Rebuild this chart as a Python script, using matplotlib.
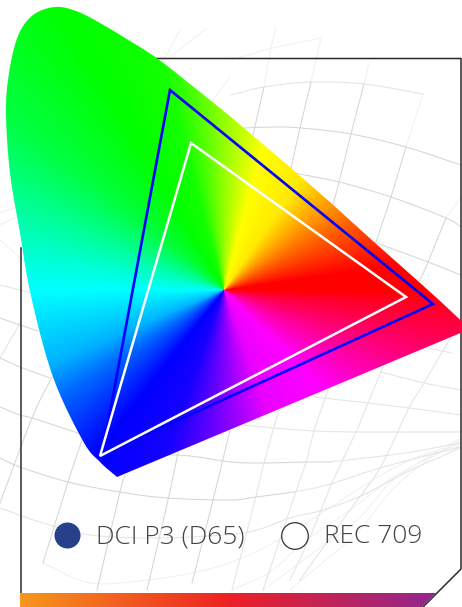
import numpy as np
import matplotlib
matplotlib.use('Agg')
import matplotlib.pyplot as plt
from matplotlib.colors import hsv_to_rgb, LinearSegmentedColormap
from matplotlib.patches import Polygon, Circle

# everything is in picture pixels, y pointing down
W, H = 462, 607

# spectral locus: curved part from the blue corner round the top, then the straight edges
locus_curve = [(117, 477), (100, 462), (83, 441), (53, 377), (31, 296), (20, 233), (10, 173), (6, 113),
               (9, 73), (18, 36), (33, 15), (55, 7), (76, 11), (100, 23), (130, 41), (158, 59), (195, 88), (231, 117)]
locus_edge = [(291, 168), (331, 203), (374, 242), (419, 282), (439, 300), (470, 329)]

# gamuts
p3_x = [170, 433, 102]
p3_y = [90, 304, 455]
rec709_x = [191, 406, 100]
rec709_y = [143, 297, 456]
white_point = (224, 290)

# angle round the white point -> hue, both in degrees
wheel_angle = [0, 8, 30, 55, 75, 90, 105, 120, 141, 157, 170, 180, 203, 213, 232, 250, 270, 290, 315, 340, 355, 360]
wheel_hue = [0, 0, 25, 55, 60, 85, 115, 120, 135, 155, 170, 180, 198, 215, 240, 245, 270, 295, 300, 330, 350, 360]

# frame
frame_x = [20.5, 20.5]
frame_y = [607, 248]
frame2_x = [150, 461, 461, 423]
frame2_y = [58.5, 58.5, 569, 607]

# gradient strip
bar_colors = ['#F7971D', '#ED2024', '#92278F']
bar_stops = [0, 0.5, 1]

legend_labels = ['DCI P3 (D65)', 'REC 709']

# grid curves, grouped by strength
grid_dark = [
    [(244, 128), (274, 127), (301, 128), (351, 134), (406, 147), (461, 165)],
    [(294, 173), (339, 182), (391, 197), (446, 218), (461, 227)],
    [(374, 242), (428, 262), (461, 275)],
    [(264, 87), (253, 135)],
    [(311, 82), (300, 128), (291, 168)],
    [(364, 84), (351, 134), (339, 182), (333, 205)],
    [(406, 147), (391, 197), (376, 242)],
    [(446, 218), (428, 262), (419, 282)],
    [(78, 433), (32, 418), (20, 415), (0, 407)],
    [(100, 457), (177, 455), (231, 462), (264, 463), (306, 462), (330, 462)],
    [(0, 458), (20, 467), (68, 482), (120, 492), (167, 498), (231, 500), (256, 497), (294, 492)],
    [(125, 475), (120, 492), (97, 590)],
    [(82, 440), (68, 482), (43, 563)],
    [(52, 377), (32, 418), (0, 503)],
    [(178, 453), (168, 500), (147, 590)],
    [(230, 430), (213, 500), (192, 583)],
    [(0, 358), (20, 367), (50, 378)],
    [(0, 318), (20, 325), (38, 331)],
]
grid_mid = [
    [(231, 95), (264, 87), (311, 82), (364, 84), (423, 94)],
    [(244, 425), (274, 428), (314, 431), (356, 432), (398, 432), (461, 432)],
    [(314, 397), (368, 403), (409, 408), (461, 415)],
    [(381, 372), (424, 383), (461, 390)],
    [(424, 347), (451, 353)],
    [(279, 410), (274, 427), (264, 463), (255, 500), (232, 590)],
    [(328, 390), (314, 431), (306, 462), (293, 500), (263, 590)],
    [(383, 367), (368, 403), (356, 432), (332, 483), (310, 537), (290, 580)],
    [(451, 337), (424, 383), (409, 408), (380, 468), (350, 510), (300, 580)],
    [(330, 462), (405, 453), (460, 443)],
    [(294, 492), (327, 485), (380, 468), (460, 447)],
    [(0, 508), (43, 523), (90, 535), (157, 538), (223, 535), (257, 530), (290, 518), (323, 510), (363, 495), (407, 472), (460, 448)],
    [(0, 285), (32, 293)],
    [(20, 323), (0, 358)],
]
grid_faint = [
    [(231, 60), (273, 48), (321, 38)],
    [(276, 28), (271, 48), (264, 87)],
    [(321, 38), (311, 82)],
    [(369, 63), (364, 84)],
    [(423, 94), (406, 147)],
    [(461, 197), (446, 218)],
    [(43, 563), (90, 583), (147, 580), (197, 572), (237, 560), (273, 543), (303, 525), (357, 490), (390, 470), (423, 455), (461, 445)],
    [(232, 590), (270, 572), (303, 543), (357, 505), (392, 478), (425, 460), (461, 442)],
    [(263, 590), (310, 555), (357, 520), (390, 483), (423, 460), (461, 438)],
    [(290, 590), (310, 573), (357, 533), (392, 490), (425, 462), (461, 440)],
    [(207, 28), (170, 57)],
    [(230, 77), (213, 100)],
    [(0, 225), (50, 200)],
    [(0, 213), (50, 195)],
    [(0, 240), (25, 262)],
    [(180, 30), (165, 58)],
]


def smooth(points, n=12):
    # catmull-rom through the read-off points
    pts = np.array(points, dtype=float)
    if len(pts) == 2:
        return pts[:, 0], pts[:, 1]
    p = np.vstack([2 * pts[0] - pts[1], pts, 2 * pts[-1] - pts[-2]])
    out = []
    for i in range(1, len(p) - 2):
        t = np.linspace(0, 1, n, endpoint=False)[:, None]
        out.append(0.5 * (2 * p[i] + (p[i + 1] - p[i - 1]) * t
                          + (2 * p[i - 1] - 5 * p[i] + 4 * p[i + 1] - p[i + 2]) * t ** 2
                          + (3 * p[i] - p[i - 1] - 3 * p[i + 1] + p[i + 2]) * t ** 3))
    out.append(pts[-1:])
    out = np.vstack(out)
    return out[:, 0], out[:, 1]


plt.rcParams['font.family'] = ['Open Sans', 'DejaVu Sans']
fig = plt.figure(figsize=(W / 100, H / 100), dpi=100, facecolor='white')
ax = fig.add_axes([0, 0, 1, 1])
ax.axis('off')

for group, col, lw in [(grid_faint, '#F0F0F0', 0.7), (grid_mid, '#E4E4E4', 0.75), (grid_dark, '#D6D6D6', 0.75)]:
    for curve in group:
        cx, cy = smooth(curve)
        ax.plot(cx, cy, color=col, lw=lw, zorder=1)

ax.plot(frame_x, frame_y, color='#2B2B2B', lw=1.1, zorder=2)
ax.plot(frame2_x, frame2_y, color='#2B2B2B', lw=1.1, zorder=2)

# colour wheel clipped to the locus
xx, yy = np.meshgrid(np.arange(W) + 0.5, np.arange(H) + 0.5)
ang = np.degrees(np.arctan2(white_point[1] - yy, xx - white_point[0])) % 360
hue = np.interp(ang, wheel_angle, wheel_hue) / 360
rgb = hsv_to_rgb(np.dstack([hue, np.ones_like(hue), np.ones_like(hue)]))
im = ax.imshow(rgb, extent=[0, W, H, 0], zorder=3, aspect='auto', interpolation='bilinear')
lx, ly = smooth(locus_curve)
locus_pts = np.vstack([np.c_[lx, ly], locus_edge])
locus = Polygon(locus_pts, closed=True, transform=ax.transData, fc='none', ec='none')
ax.add_patch(locus)
im.set_clip_path(locus)

ax.add_patch(Polygon(np.c_[p3_x, p3_y], closed=True, fc='none', ec='#0000FF', lw=1.9, joinstyle='miter', zorder=4))
ax.add_patch(Polygon(np.c_[rec709_x, rec709_y], closed=True, fc='none', ec='white', lw=1.8, joinstyle='miter', zorder=5))

# gradient strip with the cut corner
cmap = LinearSegmentedColormap.from_list('strip', list(zip(bar_stops, bar_colors)))
bar = ax.imshow(np.linspace(0, 1, 256)[None, :], extent=[20, 436, 607, 593], cmap=cmap, aspect='auto', zorder=2)
cut = Polygon([(20, 593), (436, 593), (422, 607), (20, 607)], closed=True, transform=ax.transData, fc='none', ec='none')
ax.add_patch(cut)
bar.set_clip_path(cut)
ax.set_xlim(0, W)
ax.set_ylim(H, 0)

ax.add_patch(Circle((67.5, 535.5), 13, fc='#27408B', ec='none', zorder=6))
ax.add_patch(Circle((295, 536), 13.3, fc='white', ec='#333333', lw=0.9, zorder=6))
ax.text(96.5, 536.5, legend_labels[0], fontsize=19, fontweight='light', color='#444444', va='center', ha='left', zorder=6)
ax.text(324, 536.5, legend_labels[1], fontsize=19, fontweight='light', color='#444444', va='center', ha='left', zorder=6)

fig.savefig('out.png', dpi=100, facecolor='white')
